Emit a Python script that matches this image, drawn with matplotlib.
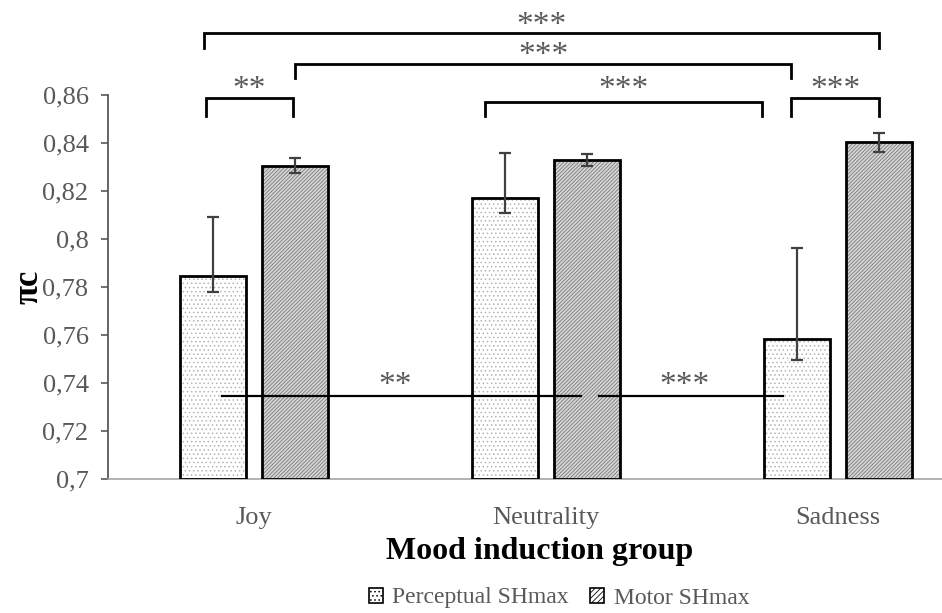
import matplotlib
matplotlib.use('Agg')
import matplotlib.pyplot as plt
import matplotlib.patches as mpatches
import numpy as np

groups = ['Joy', 'Neutrality', 'Sadness']
perceptual = [0.7846, 0.8170, 0.7585]
perceptual_hi = [0.8090, 0.8360, 0.7962]
perceptual_lo = [0.7780, 0.8110, 0.7495]
motor = [0.8306, 0.8329, 0.8406]
motor_hi = [0.8336, 0.8355, 0.8443]
motor_lo = [0.8277, 0.8303, 0.8362]

# brackets above the bars: (x_left, x_right, y_bar, y_tick_end, label, y_label)
brackets = [
    (-0.17, 2.14, 0.8857, 0.8795, '***', 0.8888),
    (0.14, 1.84, 0.8728, 0.8671, '***', 0.8762),
    (-0.165, 0.135, 0.8586, 0.8513, '**', 0.8622),
    (0.79, 1.74, 0.8572, 0.8513, '***', 0.8622),
    (1.84, 2.14, 0.8586, 0.8513, '***', 0.8622),
]
# horizontal comparison lines across the perceptual bars
hlines = [(-0.11, 1.12, 0.7346, '**'), (1.18, 1.81, 0.7346, '***')]

plt.rcParams['font.family'] = ['Liberation Serif', 'DejaVu Serif']
plt.rcParams['hatch.linewidth'] = 0.6

fig = plt.figure(figsize=(9.42, 6.13), dpi=100)
ax = fig.add_axes([108 / 942, 134 / 613, 876 / 942, 384 / 613])

x = np.arange(len(groups))
width = 0.226
off = 0.142
grey = '#595959'

p = np.array(perceptual)
m = np.array(motor)
p_err = [p - np.array(perceptual_lo), np.array(perceptual_hi) - p]
m_err = [m - np.array(motor_lo), np.array(motor_hi) - m]

# hatch fill first, then a plain black outline on top
ax.bar(x - off, p - 0.7, width, bottom=0.7, color='white', edgecolor='#b4b4b4',
       hatch='....', linewidth=0, zorder=2)
ax.bar(x + off, m - 0.7, width, bottom=0.7, color='#d6d6d6', edgecolor='#7a7a7a',
       hatch='/////////', linewidth=0, zorder=2)
ax.bar(x - off, p - 0.7, width, bottom=0.7, fill=False, edgecolor='black',
       linewidth=2, zorder=3)
ax.bar(x + off, m - 0.7, width, bottom=0.7, fill=False, edgecolor='black',
       linewidth=2, zorder=3)

ax.errorbar(x - off, p, yerr=p_err, fmt='none', ecolor='#404040', elinewidth=1.6,
            capsize=4.5, capthick=1.6, zorder=4)
ax.errorbar(x + off, m, yerr=m_err, fmt='none', ecolor='#404040', elinewidth=1.6,
            capsize=4.5, capthick=1.6, zorder=4)

for x0, x1, yb, yt, lab, yl in brackets:
    ax.plot([x0, x0, x1, x1], [yt, yb, yb, yt], color='black', lw=2,
            clip_on=False, zorder=5, solid_joinstyle='miter')
    ax.text((x0 + x1) / 2, yl, lab, ha='center', va='center', fontsize=24,
            color=grey)

for x0, x1, y, lab in hlines:
    ax.plot([x0, x1], [y, y], color='black', lw=1.6, zorder=5)
    ax.text((x0 + x1) / 2 - 0.02, y + 0.0042, lab, ha='center', va='center',
            fontsize=24, color=grey)

ax.set_xlim(-0.5, 2.5)
ax.set_ylim(0.7, 0.86)
yt = np.arange(0.70, 0.861, 0.02)
ax.set_yticks(yt)
ax.set_yticklabels([f'{v:.2f}'.rstrip('0').replace('.', ',') for v in yt])
ax.set_xticks(x)
ax.set_xticklabels(groups)
ax.tick_params(axis='x', length=0, pad=20, labelsize=19, labelcolor=grey)
ax.tick_params(axis='y', length=5, width=1.2, color=grey, labelsize=19,
               labelcolor=grey, pad=9)

for s in ['top', 'right']:
    ax.spines[s].set_visible(False)
ax.spines['left'].set_color(grey)
ax.spines['left'].set_linewidth(1.3)
ax.spines['bottom'].set_color('#a6a6a6')
ax.spines['bottom'].set_linewidth(1.2)

fig.text(29 / 942, 1 - 287 / 613, 'πc', rotation=90, ha='center', va='center',
         fontsize=25, fontweight='bold')
fig.text(540 / 942, 1 - 551 / 613, 'Mood induction group', ha='center',
         va='center', fontsize=23, fontweight='bold')

handles = [
    mpatches.Patch(facecolor='white', edgecolor='black', hatch='....', lw=1.2,
                   label='Perceptual SHmax'),
    mpatches.Patch(facecolor='white', edgecolor='black', hatch='//////', lw=1.2,
                   label='Motor SHmax'),
]
fig.legend(handles=handles, loc='center', bbox_to_anchor=(559 / 942, 1 - 598 / 613),
           ncol=2, frameon=False, fontsize=17, handlelength=0.6, handleheight=0.6,
           handletextpad=0.4, columnspacing=0.9, labelcolor=grey)

fig.savefig('out.png', dpi=100)
